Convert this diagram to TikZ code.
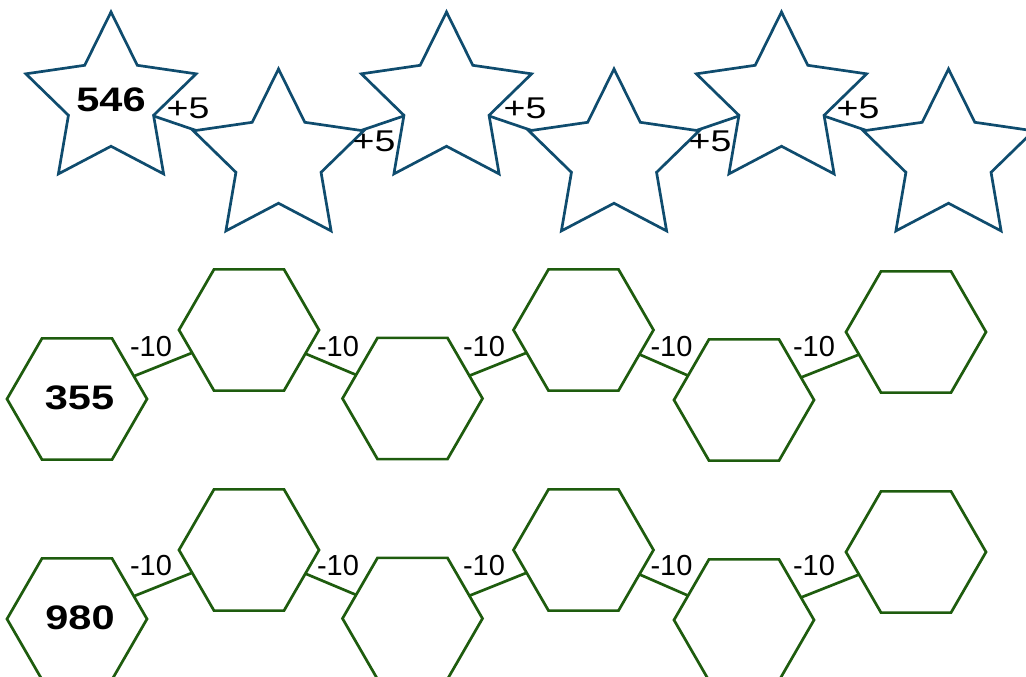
\documentclass[tikz,border=0pt]{standalone}
\usepackage{fontspec}
\usetikzlibrary{shapes.geometric}
\newfontfamily\numfont[FakeStretch=1.22]{Liberation Sans}
\newfontfamily\plusfont[FakeStretch=1.25]{Liberation Sans}
\newfontfamily\lblfont{Liberation Sans}
\definecolor{starblue}{HTML}{0F4C6E}
\definecolor{hexgreen}{HTML}{1E5C0E}
\tikzset{
  starnode/.style={star, star points=5, star point ratio=2.0, minimum size=179pt,
    draw=starblue, line width=2.7pt, inner sep=0pt, outer sep=0pt},
  hexnode/.style={regular polygon, regular polygon sides=6, minimum size=140pt,
    draw=hexgreen, line width=2.7pt, inner sep=0pt, outer sep=0pt},
  starlink/.style={draw=starblue, line width=2.7pt},
  hexlink/.style={draw=hexgreen, line width=2.7pt},
  pluslbl/.style={font=\plusfont\fontsize{30}{32}\selectfont, inner sep=0pt},
  minuslbl/.style={font=\lblfont\fontsize{29}{31}\selectfont, inner sep=0pt},
  bignum/.style={font=\numfont\bfseries\fontsize{34}{38}\selectfont, inner sep=0pt}
}
\begin{document}
\begin{tikzpicture}[x=1pt,y=-1pt]
\useasboundingbox (0,0) rectangle (1026,677);
\clip (0,0) rectangle (1026,677);
% stars
\node[starnode] (s1) at (111,101.5) {};
\node[bignum] (t1) at (111,100) {546};
\node[starnode] (s2) at (278.5,158.5) {};
\node[starnode] (s3) at (446.5,101.5) {};
\node[starnode] (s4) at (614,158.5) {};
\node[starnode] (s5) at (781.5,101.5) {};
\node[starnode] (s6) at (948.5,158.5) {};
\draw[starlink] (s1) -- (s2);
\draw[starlink] (s2) -- (s3);
\draw[starlink] (s3) -- (s4);
\draw[starlink] (s4) -- (s5);
\draw[starlink] (s5) -- (s6);
\node[pluslbl] (p1) at (188,108) {+5};
\node[pluslbl] (p2) at (374,141) {+5};
\node[pluslbl] (p3) at (525,108.5) {+5};
\node[pluslbl] (p4) at (710,141) {+5};
\node[pluslbl] (p5) at (858,108) {+5};
% hex row 1
\node[hexnode] (a1) at (77,399) {};
\node[bignum] (ta) at (79.5,398) {355};
\node[hexnode] (a2) at (249,330) {};
\node[hexnode] (a3) at (412.5,398.5) {};
\node[hexnode] (a4) at (583.5,330) {};
\node[hexnode] (a5) at (744,400) {};
\node[hexnode] (a6) at (916,332) {};
\draw[hexlink] (a1) -- (a2);
\draw[hexlink] (a2) -- (a3);
\draw[hexlink] (a3) -- (a4);
\draw[hexlink] (a4) -- (a5);
\draw[hexlink] (a5) -- (a6);
\node[minuslbl] (m1) at (151,347) {-10};
\node[minuslbl] (m2) at (338,347) {-10};
\node[minuslbl] (m3) at (484,347) {-10};
\node[minuslbl] (m4) at (671.5,347) {-10};
\node[minuslbl] (m5) at (814,347) {-10};
% hex row 2
\node[hexnode] (b1) at (77,619) {};
\node[bignum] (tb) at (80,618) {980};
\node[hexnode] (b2) at (249,550) {};
\node[hexnode] (b3) at (412.5,618.5) {};
\node[hexnode] (b4) at (583.5,550) {};
\node[hexnode] (b5) at (744,620) {};
\node[hexnode] (b6) at (916,552) {};
\draw[hexlink] (b1) -- (b2);
\draw[hexlink] (b2) -- (b3);
\draw[hexlink] (b3) -- (b4);
\draw[hexlink] (b4) -- (b5);
\draw[hexlink] (b5) -- (b6);
\node[minuslbl] (n1) at (151,566) {-10};
\node[minuslbl] (n2) at (338,566) {-10};
\node[minuslbl] (n3) at (484,566) {-10};
\node[minuslbl] (n4) at (671.5,566) {-10};
\node[minuslbl] (n5) at (814,566) {-10};
\end{tikzpicture}
\end{document}
